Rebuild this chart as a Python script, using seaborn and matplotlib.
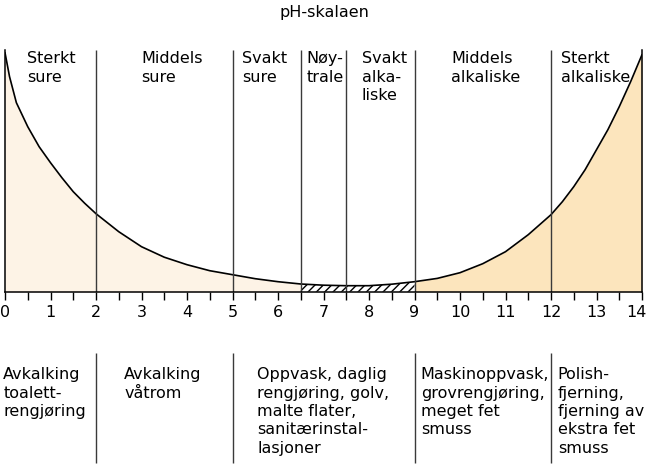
import numpy as np
import pandas as pd
import matplotlib
matplotlib.use("Agg")
import matplotlib.pyplot as plt
import matplotlib.transforms as mtransforms
import seaborn as sns

# pH-verdier og kurvehøyde lest av figuren (vilkårlig enhet)
ph = [0, 0.1, 0.25, 0.5, 0.75, 1, 1.25, 1.5, 1.75, 2, 2.5, 3, 3.5, 4, 4.5, 5,
      5.5, 6, 6.5, 7, 7.5, 8, 8.5, 9, 9.5, 10, 10.5, 11, 11.5, 12, 12.25,
      12.5, 12.75, 13, 13.25, 13.5, 13.75, 14]
hoyde = [239, 215, 189, 165, 145, 129, 114, 100, 88.5, 78, 60, 45, 34.5, 27,
         21, 17, 13, 10, 7.7, 6.5, 6, 6, 7.5, 10, 13.3, 19, 28, 40, 57, 77, 90,
         105, 122, 142, 162, 185, 210, 237]

grenser = [2, 5, 6.5, 7.5, 9, 12]
grenser_bunn = [2, 5, 9, 12]
omraader = ["Sterkt\nsure", "Middels\nsure", "Svakt\nsure", "Nøy-\ntrale",
            "Svakt\nalka-\nliske", "Middels\nalkaliske", "Sterkt\nalkaliske"]
bruk = ["Avkalking\ntoalett-\nrengjøring", "Avkalking\nvåtrom",
        "Oppvask, daglig\nrengjøring, golv,\nmalte flater,\nsanitærinstal-\nlasjoner",
        "Maskinoppvask,\ngrovrengjøring,\nmeget fet\nsmuss",
        "Polish-\nfjerning,\nfjerning av\nekstra fet\nsmuss"]

# plassering av tekst (pH-koordinat for venstre kant)
x_omraader = [0.48, 2.99, 5.21, 6.62, 7.84, 9.80, 12.22]
x_bruk = [-0.04, 2.62, 5.54, 9.14, 12.15]

df = pd.DataFrame({"pH": ph, "h": hoyde})

sns.set_theme(style="white")
plt.rcParams['font.family'] = ['DejaVu Sans']
plt.rcParams['hatch.linewidth'] = 1.0
FS = 11.5

fig = plt.figure(figsize=(6.48, 4.67), dpi=100)
TOPP = 241.7
ax = fig.add_axes([5/648, (467-291.7)/467, 637/648, 241.7/467])

# fyll
sur = df[df.pH <= 6.5]
noy = df[(df.pH >= 6.5) & (df.pH <= 9)]
bas = df[df.pH >= 9]
ax.fill_between(sur.pH, 0, sur.h, color='#fdf3e6', lw=0)
ax.fill_between(bas.pH, 0, bas.h, color='#fce5bd', lw=0)
ax.fill_between(noy.pH, 0, noy.h, facecolor='white', edgecolor='black',
                hatch='////', lw=0)

sns.lineplot(data=df, x="pH", y="h", ax=ax, color='black', lw=1.2)

ax.vlines(grenser, 0, TOPP, color='#3a3a3a', lw=1.0)
ax.vlines(grenser_bunn, -61.3, -171.3, color='#3a3a3a', lw=1.0, clip_on=False)

ax.set_xlim(0, 14)
ax.set_ylim(0, TOPP)
ax.set_xlabel("")
ax.set_ylabel("")
ax.set_yticks([])
ax.set_xticks(range(0, 15))
ax.set_xticks(np.arange(0.5, 14, 1), minor=True)
ax.tick_params(axis='x', which='both', direction='out', length=5.4, width=1,
               color='black', bottom=True)
ax.tick_params(axis='x', which='major', labelsize=FS, pad=4, labelcolor='black')
for s in ['left', 'right', 'bottom']:
    ax.spines[s].set_color('black')
    ax.spines[s].set_linewidth(1.1)
ax.spines['top'].set_visible(False)

# siste tallet litt inn så det ikke kuttes
lbls = ax.get_xticklabels()
lbls[-1].set_transform(lbls[-1].get_transform() +
                       mtransforms.ScaledTranslation(-4/72, 0, fig.dpi_scale_trans))

for x, t in zip(x_omraader, omraader):
    ax.text(x, 240.5, t, fontsize=FS, va='top', ha='left',
            linespacing=1.28, color='black')
for x, t in zip(x_bruk, bruk):
    ax.text(x, -75.5, t, fontsize=FS, va='top', ha='left',
            linespacing=1.28, clip_on=False, color='black')

fig.text(0.5, 1 - 12/467, "pH-skalaen", fontsize=FS, ha='center', va='center',
         color='black')

fig.savefig("out.png", dpi=100)
